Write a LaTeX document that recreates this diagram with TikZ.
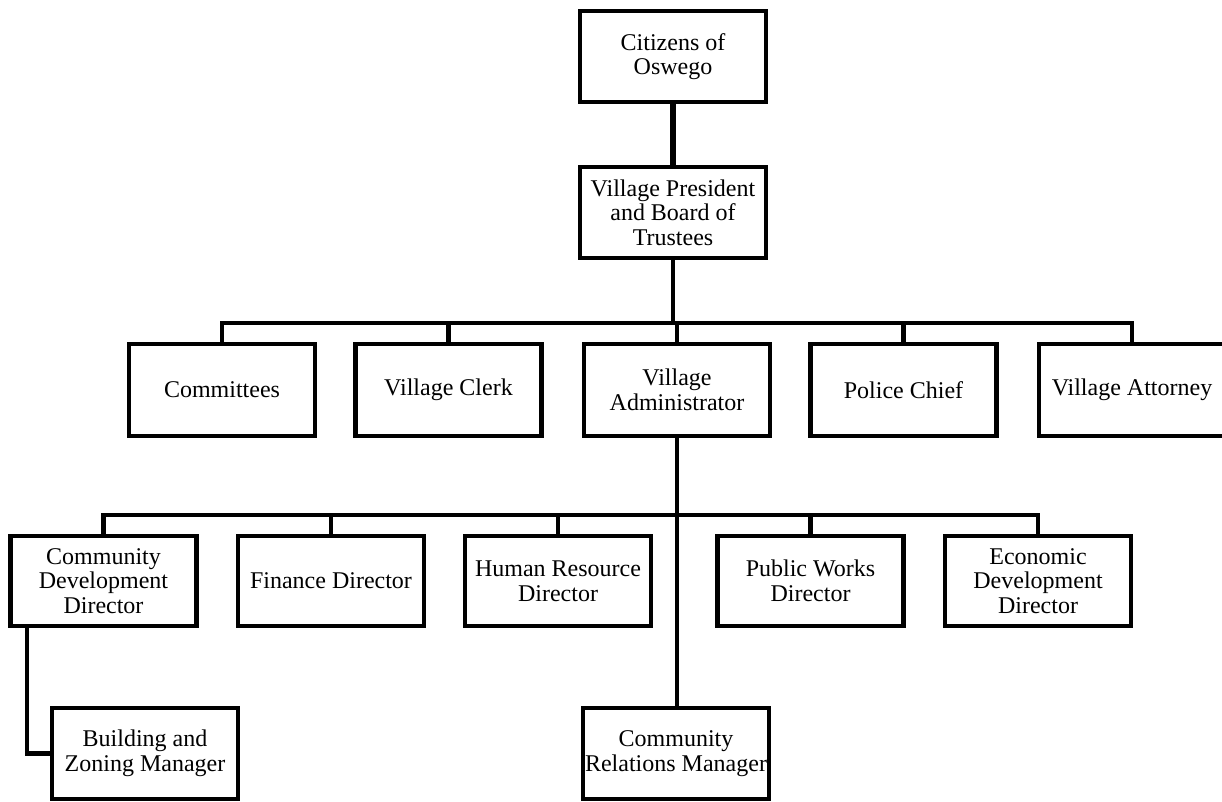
\documentclass[tikz,border=0pt]{standalone}
\usepackage{fontspec}
\setmainfont{Liberation Serif}
\begin{document}
\begin{tikzpicture}[
    x = 0.75pt,
    y = -0.75pt,
    box/.style = {draw=black, line width=3.4pt, align=center, inner sep=0pt,
              minimum width=139.5pt, minimum height=69pt,
              font=\fontsize{18}{18.5}\selectfont},
    link/.style = {black, line width=3.4pt},
    ]
\clip (0,0) rectangle (1222,801);

% top of the chart
\node[box, minimum height=68.25pt] (citizens) at (673,56.5) {Citizens of\\Oswego};
\node[box, minimum height=68.25pt] (president) at (673,212.5) {Village President\\and Board of\\Trustees};

% second row
\node[box] (committees) at (222,390) {Committees};
\node[box] (clerk) at (448.5,390) {Village Clerk};
\node[box] (admin) at (677,390) {Village\\Administrator};
\node[box] (police) at (903.5,390) {Police Chief};
\node[box] (attorney) at (1132,390) {Village Attorney};

% third row
\node[box, minimum height=67.5pt] (commdev) at (103.5,581) {Community\\Development\\Director};
\node[box, minimum height=67.5pt] (finance) at (331,581) {Finance Director};
\node[box, minimum height=67.5pt] (hr) at (558,581) {Human Resource\\Director};
\node[box, minimum height=67.5pt] (works) at (810.5,581) {Public Works\\Director};
\node[box, minimum height=67.5pt] (econdev) at (1038,581) {Economic\\Development\\Director};

% bottom row
\node[box, minimum height=68.25pt] (building) at (145,753.5) {Building and\\Zoning Manager};
\node[box, minimum height=68.25pt] (commrel) at (676,753.5) {Community\\Relations Manager};

\coordinate (bus2) at (0,323);
\coordinate (bus3) at (0,515);

\draw [link, line width=4pt] (citizens) -- (president);
\draw [link] (president.south) -- (president.south |- bus2);
\draw [link] (committees.north) |- (attorney.north |- bus2) -- (attorney.north);
\foreach \n in {clerk, admin, police}
    \draw [link] (\n.north) -- (\n.north |- bus2);

\draw [link] (admin.south) -- (admin.south |- commrel.north);
\draw [link] (commdev.north) |- (econdev.north |- bus3) -- (econdev.north);
\foreach \n in {finance, hr, works}
    \draw [link] (\n.north) -- (\n.north |- bus3);

\draw [link] ([xshift=13.9pt]commdev.south west) |- (building.west);

\end{tikzpicture}
\end{document}
